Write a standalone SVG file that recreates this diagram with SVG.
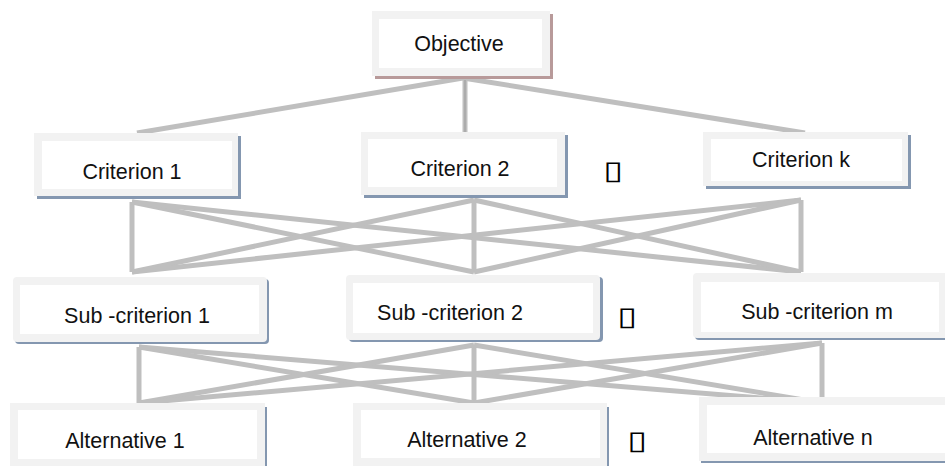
<svg xmlns="http://www.w3.org/2000/svg" width="945" height="466" viewBox="0 0 945 466">
<style>
.band{fill:#f2f2f2}
.inner{fill:#ffffff}
.sh{fill:#8497b0}
.shr{fill:#b89a9a}
.t{font-family:"Liberation Sans",Arial,sans-serif;font-size:21.5px;fill:#111;text-anchor:middle}
.tofu{font-family:"DejaVu Sans",sans-serif;font-size:26px;fill:#000;text-anchor:middle}
.c{stroke:#bfbfbf;stroke-width:5;fill:none;stroke-linecap:butt}
</style>
<rect width="945" height="466" fill="#ffffff"/>
<g id="connectors">
  <line class="c" x1="463" y1="78" x2="137" y2="133"/>
  <line class="c" x1="463" y1="78" x2="805" y2="133"/>
  <line class="c" x1="465" y1="78" x2="465" y2="136"/>
  <line x1="465" y1="80" x2="465" y2="134" stroke="#a6a6a6" stroke-width="1.5"/>
  <line class="c" x1="132" y1="202" x2="132" y2="272"/>
  <line class="c" x1="132" y1="202" x2="474" y2="272"/>
  <line class="c" x1="132" y1="202" x2="801" y2="272"/>
  <line class="c" x1="474" y1="200" x2="132" y2="272"/>
  <line class="c" x1="474" y1="200" x2="474" y2="272"/>
  <line class="c" x1="474" y1="200" x2="801" y2="272"/>
  <line class="c" x1="801" y1="200" x2="132" y2="272"/>
  <line class="c" x1="801" y1="200" x2="474" y2="272"/>
  <line class="c" x1="801" y1="200" x2="801" y2="272"/>
  <line class="c" x1="139" y1="347" x2="139" y2="403"/>
  <line class="c" x1="139" y1="347" x2="474" y2="403"/>
  <line class="c" x1="139" y1="347" x2="822" y2="403"/>
  <line class="c" x1="474" y1="345" x2="139" y2="403"/>
  <line class="c" x1="474" y1="345" x2="474" y2="403"/>
  <line class="c" x1="474" y1="345" x2="822" y2="403"/>
  <line class="c" x1="822" y1="343" x2="139" y2="403"/>
  <line class="c" x1="822" y1="343" x2="474" y2="403"/>
  <line class="c" x1="822" y1="343" x2="822" y2="403"/>
</g>
<g id="objective">
  <rect class="shr" x="375" y="14" width="178" height="65"/>
  <rect class="band" x="372" y="11" width="178" height="65"/>
  <rect class="inner" x="379" y="19" width="163" height="49"/>
  <text class="t" x="459" y="51">Objective</text>
</g>
<g id="criterion1">
  <rect class="sh" x="37" y="136" width="204" height="63"/>
  <rect class="band" x="34" y="133" width="204" height="63"/>
  <rect class="inner" x="42" y="141" width="190" height="48"/>
  <text class="t" x="132" y="179">Criterion 1</text>
</g>
<g id="criterion2">
  <rect class="sh" x="364" y="135" width="204" height="63"/>
  <rect class="band" x="361" y="132" width="204" height="63"/>
  <rect class="inner" x="368" y="139" width="189" height="48"/>
  <text class="t" x="460" y="176">Criterion 2</text>
</g>
<g id="ellipsis1"><text class="tofu" transform="translate(613,178.5) scale(1.4,1)">▯</text></g>
<g id="criterionk">
  <rect class="sh" x="706" y="135" width="205" height="54"/>
  <rect class="band" x="703" y="132" width="205" height="54"/>
  <rect class="inner" x="711" y="139" width="191" height="42"/>
  <text class="t" x="801" y="167">Criterion k</text>
</g>
<g id="subcriterion1">
  <rect class="sh" x="15" y="279" width="254" height="65" rx="4"/>
  <rect class="band" x="13" y="277" width="254" height="65" rx="4"/>
  <rect class="inner" x="20" y="285" width="239" height="49"/>
  <text class="t" x="137" y="323">Sub -criterion 1</text>
</g>
<g id="subcriterion2">
  <rect class="sh" x="349" y="277" width="254" height="65" rx="4"/>
  <rect class="band" x="346" y="275" width="254" height="65" rx="4"/>
  <rect class="inner" x="353" y="283" width="240" height="50"/>
  <text class="t" x="450" y="320">Sub -criterion 2</text>
</g>
<g id="ellipsis2"><text class="tofu" transform="translate(627,324.5) scale(1.4,1)">▯</text></g>
<g id="subcriterionm">
  <rect class="sh" x="695" y="275" width="260" height="65" rx="4"/>
  <rect class="band" x="693" y="273" width="260" height="65" rx="4"/>
  <rect class="inner" x="701" y="282" width="238" height="50"/>
  <text class="t" x="817" y="319">Sub -criterion m</text>
</g>
<g id="alternative1">
  <rect class="sh" x="12" y="407" width="255" height="70"/>
  <rect class="band" x="10" y="403" width="255" height="70"/>
  <rect class="inner" x="18" y="410" width="239" height="49"/>
  <text class="t" x="125" y="448">Alternative 1</text>
</g>
<g id="alternative2">
  <rect class="sh" x="355" y="407" width="254" height="70"/>
  <rect class="band" x="353" y="403" width="254" height="70"/>
  <rect class="inner" x="361" y="410" width="239" height="48"/>
  <text class="t" x="467" y="447">Alternative 2</text>
</g>
<g id="ellipsis3"><text class="tofu" transform="translate(637,448.5) scale(1.4,1)">▯</text></g>
<g id="alternativen">
  <rect class="sh" x="701" y="399" width="260" height="64"/>
  <rect class="band" x="699" y="397" width="260" height="64"/>
  <rect class="inner" x="707" y="405" width="240" height="48"/>
  <text class="t" x="813" y="445">Alternative n</text>
</g>
</svg>
